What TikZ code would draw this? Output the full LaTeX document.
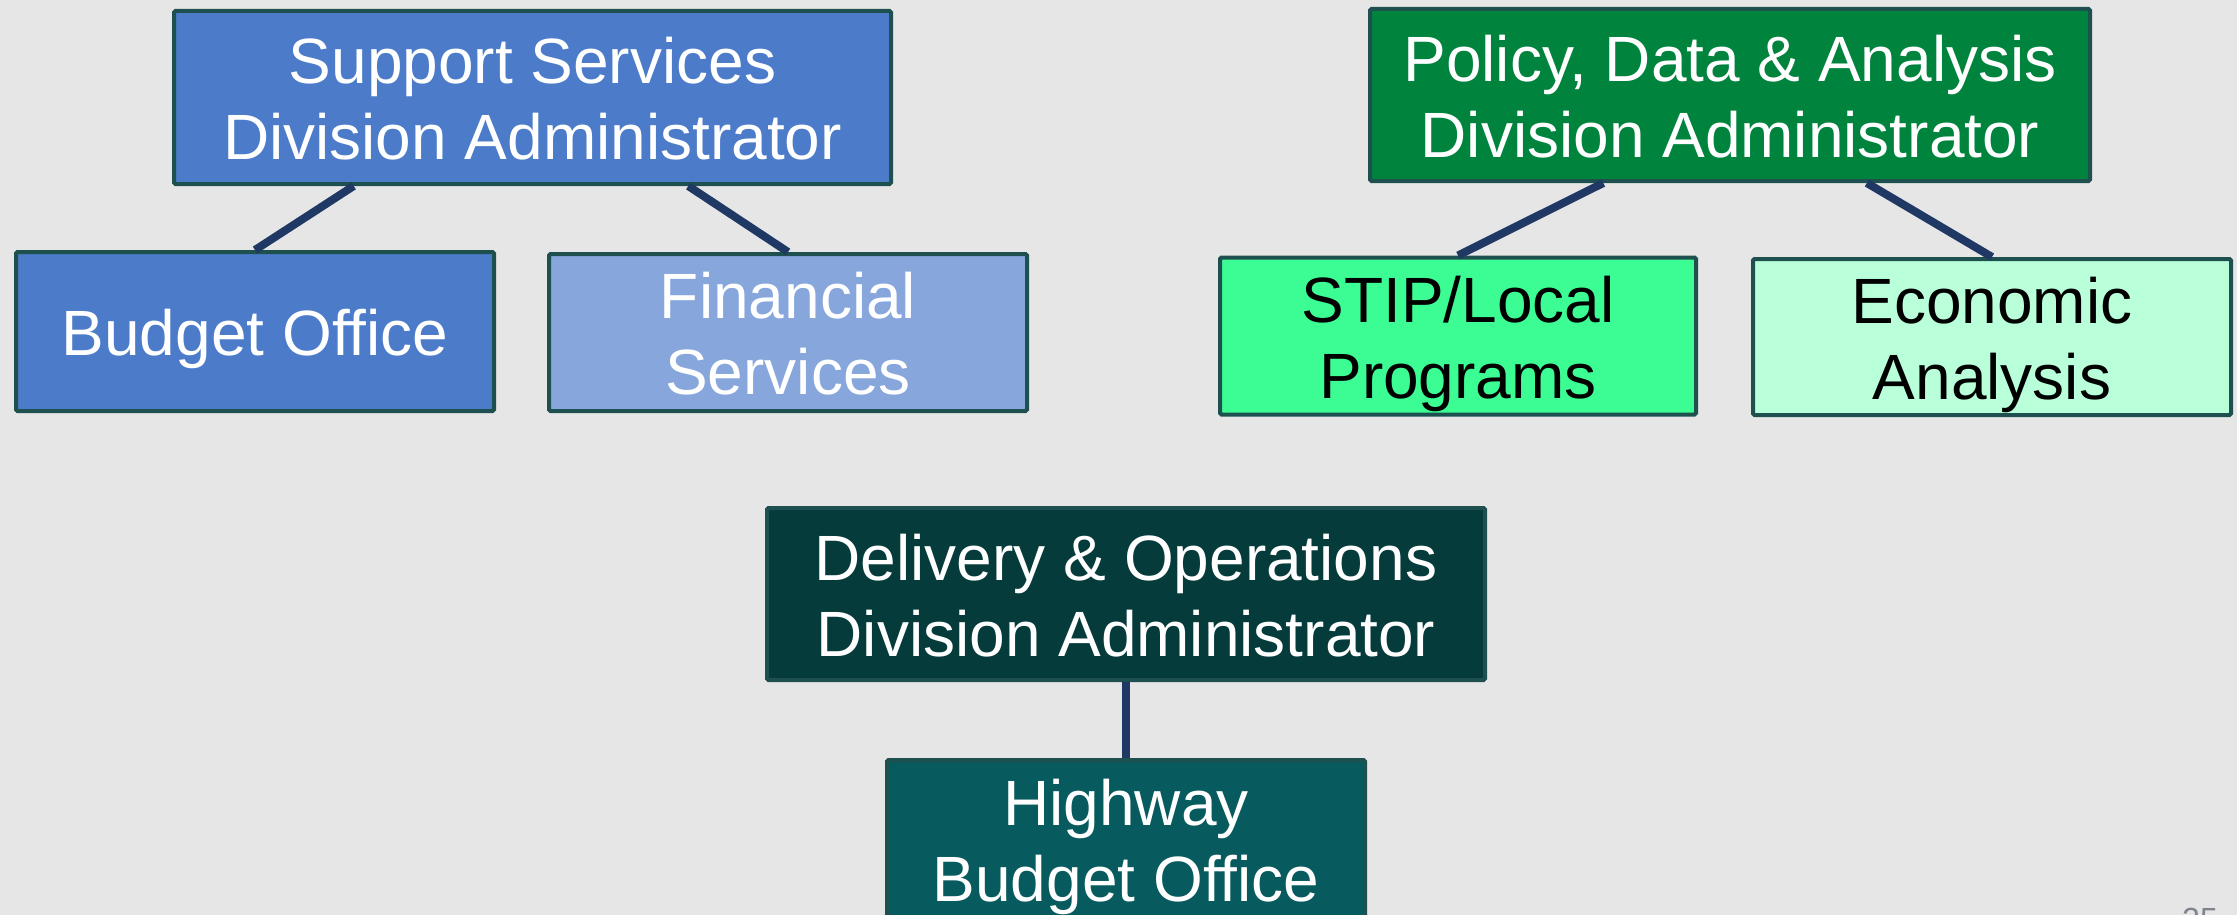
\documentclass[tikz,border=0pt]{standalone}
\usepackage{fontspec}
\setmainfont{Liberation Sans}
\usetikzlibrary{calc}
\definecolor{bg}{HTML}{E6E6E6}
\definecolor{boxline}{HTML}{1F5050}
\definecolor{linkc}{HTML}{1F3864}
\definecolor{ssblue}{HTML}{4B7BC9}
\definecolor{fsblue}{HTML}{87A7DC}
\definecolor{pdgreen}{HTML}{00843D}
\definecolor{stipgreen}{HTML}{3BFD94}
\definecolor{eagreen}{HTML}{B8FFDA}
\definecolor{dodark}{HTML}{053B3B}
\definecolor{hbteal}{HTML}{075A5E}
\definecolor{pagenum}{HTML}{80848F}
\newcommand{\btext}[1]{\raisebox{-9pt}[\height][\depth]{\begin{tabular}{@{}c@{}}#1\end{tabular}}}
\begin{document}
\begin{tikzpicture}[x=1pt,y=-1pt,
  box/.style={draw=boxline, line width=4pt, rounded corners=1.5pt, inner sep=0pt,
    font=\fontsize{64}{76}\selectfont, text=white},
  link/.style={draw=linkc, line width=8pt}]
\clip (0,0) rectangle (2237,915);
\fill[bg] (0,0) rectangle (2237,915);

% Support Services group
\node[box, fill=ssblue, minimum width=717pt, minimum height=173pt] (ss) at (532.5,97.5)
  {\btext{Support Services\\Division Administrator}};
\node[box, fill=ssblue, minimum width=478pt, minimum height=159pt] (bo) at (255,331.5)
  {\btext{Budget Office}};
\node[box, fill=fsblue, minimum width=478pt, minimum height=157pt] (fs) at (788,332.5)
  {\btext{Financial\\Services}};

% Policy group
\node[box, fill=pdgreen, minimum width=720pt, minimum height=172pt] (pd) at (1730,95)
  {\btext{Policy, Data \& Analysis\\Division Administrator}};
\node[box, fill=stipgreen, text=black, minimum width=476pt, minimum height=157pt] (stip) at (1458,336)
  {\btext{STIP/Local\\Programs}};
\node[box, fill=eagreen, text=black, minimum width=478pt, minimum height=156pt] (ea) at (1992,337)
  {\btext{Economic\\Analysis}};

% Delivery group
\node[box, fill=dodark, minimum width=718pt, minimum height=172pt] (do) at (1126,594)
  {\btext{Delivery \& Operations\\Division Administrator}};
\node[box, fill=hbteal, minimum width=478pt, minimum height=158pt] (hb) at (1126,839)
  {\btext{Highway\\Budget Office}};

% Connectors
\draw[link] ($(ss.south west)!0.252!(ss.south east)$) -- (bo.north);
\draw[link] ($(ss.south west)!0.716!(ss.south east)$) -- (fs.north);
\draw[link] ($(pd.south west)!0.325!(pd.south east)$) -- (stip.north);
\draw[link] ($(pd.south west)!0.689!(pd.south east)$) -- (ea.north);
\draw[link] (do.south) -- (hb.north);

% Page number (cut off at the bottom edge, as in the reference)
\node[anchor=base west, inner sep=0pt, text=pagenum, font=\fontsize{32}{38}\selectfont] (pg) at (2182,930) {25};
\end{tikzpicture}
\end{document}
